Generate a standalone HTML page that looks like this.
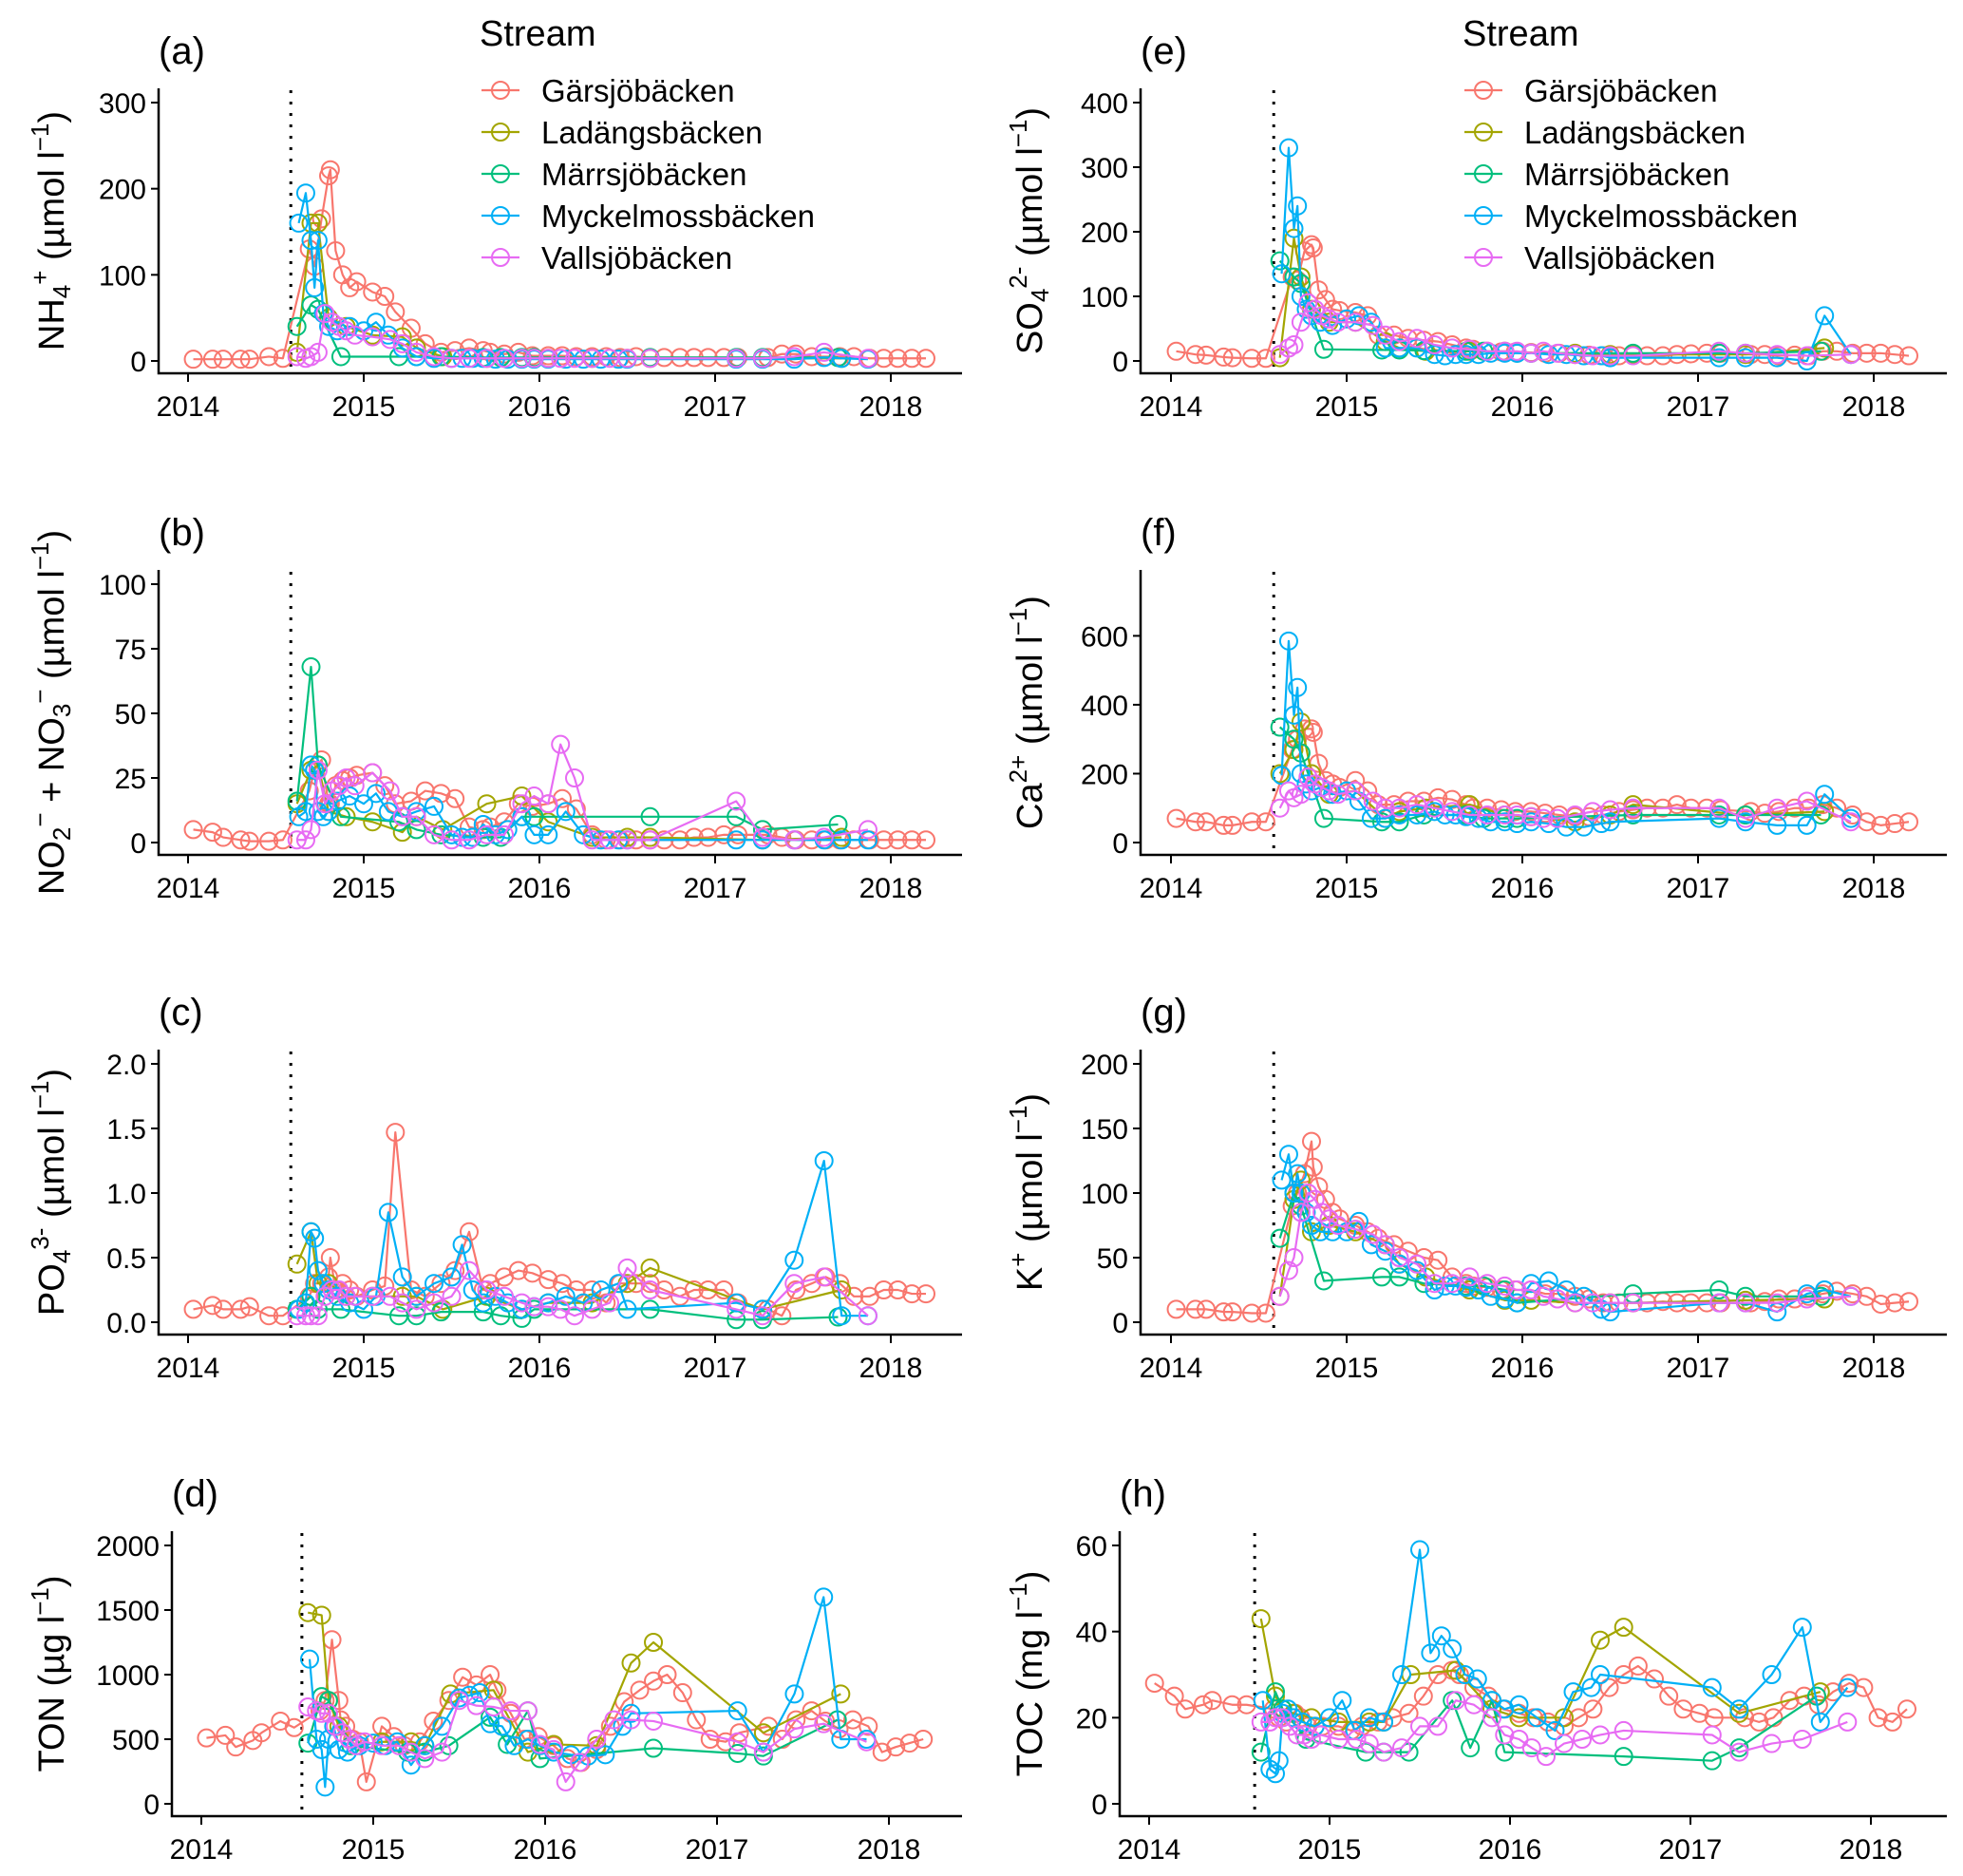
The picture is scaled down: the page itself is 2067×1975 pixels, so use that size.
<!DOCTYPE html>
<html><head><meta charset="utf-8"><style>
html,body{margin:0;padding:0;background:#fff}
svg{display:block;font-family:"Liberation Sans",Arial,sans-serif}
</style></head><body>
<svg id="fig" width="2067" height="1975" viewBox="0 0 2067 1975" xmlns="http://www.w3.org/2000/svg">
<rect width="2067" height="1975" fill="#fff"/>
</svg>
<script>
// ---- data: sampling dates per stream (decimal years) ----
const streams = ["Gärsjöbäcken","Ladängsbäcken","Märrsjöbäcken","Myckelmossbäcken","Vallsjöbäcken"];
const datesG = [2014.03,2014.14,2014.20,2014.30,2014.35,2014.46,2014.54,
 2014.69,2014.72,2014.76,2014.80,2014.81,2014.84,2014.88,2014.92,2014.96,
 2015.05,2015.12,2015.18,2015.27,2015.35,2015.44,2015.52,2015.60,2015.68,2015.72,2015.80,2015.88,2015.96,
 2016.05,2016.13,2016.21,2016.30,2016.38,2016.46,2016.55,2016.63,2016.71,2016.80,2016.88,2016.96,
 2017.05,2017.13,2017.30,2017.38,2017.46,2017.55,2017.63,2017.71,2017.79,2017.88,2017.96,
 2018.04,2018.12,2018.20];
const datesL = [2014.62,2014.70,2014.74,2014.80,2014.90,2015.05,2015.22,2015.30,2015.45,2015.70,2015.90,2016.05,2016.30,2016.50,2016.63,2017.27,2017.72];
const datesM = [2014.62,2014.70,2014.74,2014.87,2015.20,2015.30,2015.44,2015.68,2015.78,2015.90,2015.97,2016.63,2017.12,2017.27,2017.70];
const datesMy = [2014.63,2014.67,2014.70,2014.72,2014.74,2014.77,2014.80,2014.85,2014.92,2015.00,2015.07,2015.14,2015.22,2015.30,2015.40,2015.50,2015.56,2015.62,2015.68,2015.75,2015.82,2015.90,2015.97,2016.05,2016.15,2016.25,2016.35,2016.45,2016.50,2017.12,2017.27,2017.45,2017.62,2017.72,2017.87];
const datesV = [2014.62,2014.67,2014.70,2014.74,2014.78,2014.82,2014.86,2014.90,2014.95,2015.05,2015.15,2015.22,2015.30,2015.40,2015.50,2015.60,2015.70,2015.80,2015.90,2015.97,2016.05,2016.12,2016.20,2016.30,2016.40,2016.50,2016.63,2017.12,2017.27,2017.45,2017.62,2017.87];
const treatmentDate = 2014.585;
const yearTicks = [2014,2015,2016,2017,2018];

// ---- (a) NH4+ ----
const nh4G = [2,2,2,2,2,5,3, 130,110,165,215,222,128,100,85,92, 80,75,57,38,20,10,12,15,12,10,8,10,6, 6,6,5,5,5,4,5,4,4,4,4,4, 4,4,4,8,8,5,5,5,5,3,3, 3,3,3];
const nh4L = [10,160,160,50,40,30,28,15,5,3,3,3,3,3,3,3,3];
const nh4M = [40,65,60,5,5,5,5,4,4,4,4,4,4,4,4];
const nh4My = [160,195,140,85,140,55,40,35,40,35,45,30,15,5,3,3,3,3,3,2,2,2,2,2,2,2,2,2,2,2,2,2,4,3,2];
const nh4V = [5,3,5,10,55,45,40,35,30,28,25,20,10,5,3,3,3,3,3,3,3,3,3,3,3,3,3,3,3,5,10,3];
const nh4Ticks = [0,100,200,300];
// ---- (b) NO2- + NO3- ----
const no3G = [5,4,2,1,0.5,0.5,1, 20,28,32,15,15,22,24,25,26, 27,22,15,16,20,19,17,6,5,6,8,15,14, 15,17,13,3,1,1,1,1,1,1,2,2, 3,3,3,2,1,1,1,1,1,1,1, 1,1,1];
const no3L = [15,28,30,12,10,8,4,10,5,15,18,8,2,2,2,1,2];
const no3M = [16,68,30,10,8,5,3,2,2,10,10,10,10,5,7];
const no3My = [10,12,30,28,12,10,12,16,18,15,19,12,10,12,14,3,2,2,7,3,5,10,3,3,12,3,1,1,1,1,1,1,1,1,1];
const no3V = [1,1,5,28,15,20,22,25,22,27,20,10,10,3,1,1,3,3,15,18,15,38,25,1,1,1,1,16,2,1,2,5];
const no3Ticks = [0,25,50,75,100];
// ---- (c) PO4 3- ----
const po4G = [0.1,0.13,0.1,0.1,0.12,0.05,0.05, 0.2,0.3,0.3,0.35,0.5,0.25,0.3,0.25,0.2, 0.25,0.28,1.47,0.25,0.2,0.3,0.4,0.7,0.25,0.3,0.35,0.4,0.38, 0.33,0.3,0.25,0.25,0.15,0.3,0.3,0.3,0.25,0.2,0.25,0.25, 0.25,0.15,0.1,0.05,0.25,0.3,0.35,0.3,0.2,0.2,0.25, 0.25,0.22,0.22];
const po4L = [0.45,0.7,0.3,0.3,0.2,0.2,0.2,0.2,0.1,0.2,0.1,0.15,0.15,0.3,0.42,0.1,0.25];
const po4M = [0.1,0.2,0.1,0.1,0.05,0.05,0.08,0.08,0.05,0.03,0.1,0.1,0.02,0.02,0.04];
const po4My = [0.1,0.15,0.7,0.65,0.4,0.3,0.25,0.2,0.15,0.1,0.2,0.85,0.35,0.2,0.3,0.35,0.6,0.25,0.15,0.2,0.15,0.1,0.12,0.15,0.2,0.15,0.25,0.3,0.1,0.15,0.1,0.48,1.25,0.05,0.05];
const po4V = [0.05,0.05,0.05,0.05,0.2,0.25,0.25,0.2,0.2,0.2,0.2,0.15,0.1,0.15,0.2,0.4,0.25,0.2,0.15,0.12,0.12,0.1,0.05,0.1,0.15,0.42,0.25,0.1,0.05,0.3,0.35,0.05];
const po4Ticks = [0,0.5,1,1.5,2];
const po4TickLabels = ["0.0","0.5","1.0","1.5","2.0"];
// ---- (d) TON ----
const tonG = [510,530,440,490,550,640,590, 720,800,1270,800,650,600,500,480,170, 600,520,450,480,640,800,980,920,1000,880,700,500,520, 450,350,320,420,600,790,880,950,1000,860,650,500, 480,550,600,500,650,720,640,580,650,600,400, 440,470,500];
const tonL = [1480,1460,800,600,450,480,480,450,850,880,400,460,450,1090,1250,550,850];
const tonM = [470,830,800,450,400,400,450,670,460,720,350,430,390,370,650];
const tonMy = [1120,500,420,130,500,600,420,400,450,470,450,480,300,450,600,820,840,860,620,600,450,500,450,400,380,370,380,600,700,720,400,850,1600,500,500];
const tonV = [750,720,700,700,600,550,500,450,480,450,450,400,350,400,800,760,750,720,720,460,420,170,320,500,650,650,640,480,400,580,620,480];
const tonTicks = [0,500,1000,1500,2000];
// ---- (e) SO4 2- ----
const so4G = [15,10,9,6,5,4,4, 130,125,170,180,175,110,95,80,78, 75,70,40,40,35,32,30,25,20,18,15,14,14, 13,12,12,10,9,8,8,9,8,8,10,11, 12,12,10,10,8,9,8,15,15,12,12, 12,10,8];
const so4L = [5,190,130,80,60,60,30,20,15,15,15,12,12,10,10,10,20];
const so4M = [155,130,120,18,17,17,16,15,15,13,12,12,12,12,15];
const so4My = [135,330,205,240,100,80,70,60,55,65,70,60,20,20,20,10,8,10,10,10,12,12,12,12,10,10,8,8,5,5,5,5,0,70,10];
const so4V = [10,20,25,60,90,80,70,65,60,60,55,40,30,35,25,20,18,15,15,15,12,15,12,10,8,8,8,15,12,10,8,10];
const so4Ticks = [0,100,200,300,400];
// ---- (f) Ca2+ ----
const caG = [70,60,60,50,50,60,60, 270,300,330,330,320,230,180,170,160, 180,150,110,110,120,120,130,125,110,100,100,95,90, 90,85,80,75,75,80,90,95,100,100,110,100, 100,95,90,85,90,100,100,110,100,80,60, 50,55,60];
const caL = [200,270,350,200,140,150,70,90,100,110,80,75,60,80,110,80,90];
const caM = [335,300,260,70,60,60,80,80,70,70,70,80,80,80,80];
const caMy = [195,585,370,450,200,170,150,160,140,150,120,70,70,80,80,90,80,80,75,70,60,60,55,60,55,45,45,55,60,70,60,50,50,140,70];
const caV = [100,150,130,140,190,170,160,150,140,150,120,100,100,110,100,90,80,80,80,80,75,70,70,80,90,95,100,100,70,100,120,60];
const caTicks = [0,200,400,600];
// ---- (g) K+ ----
const kG = [10,10,10,8,8,7,7, 90,100,115,140,120,105,95,85,80, 75,70,65,60,55,50,48,35,30,28,27,25,25, 25,22,22,20,18,15,15,15,15,16,15,15, 15,15,15,16,18,18,20,22,24,22,20, 14,15,16];
const kL = [20,95,110,70,75,70,60,45,35,25,17,17,15,15,15,17,18];
const kM = [65,100,90,32,35,35,30,28,28,25,15,22,25,20,20];
const kMy = [110,130,100,115,100,85,75,70,70,70,78,60,55,45,40,25,28,28,27,25,20,18,15,30,32,25,20,10,8,15,15,8,22,25,20];
const kV = [20,40,50,85,100,95,85,80,75,72,68,60,50,45,30,30,35,30,28,25,25,20,18,15,15,15,15,15,15,15,18,20];
const kTicks = [0,50,100,150,200];
// ---- (h) TOC ----
const tocG = [28,25,22,23,24,23,23, 22,20,19,21,21,20,18,18,18, 18,17,18,19,20,21,25,30,31,30,27,25,22, 21,20,19,18,20,22,27,30,32,29,25,22, 21,20,20,19,20,24,25,23,26,28,27, 20,19,22];
const tocL = [43,25,22,21,20,19,19,19,30,31,22,20,20,38,41,21,26];
const tocM = [12,26,22,15,12,12,12,24,13,24,12,11,10,13,25];
const tocMy = [24,8,7,10,21,22,20,19,18,20,24,17,20,19,30,59,35,39,36,30,29,24,22,23,20,17,26,27,30,27,22,30,41,19,27];
const tocV = [19,19,20,20,18,16,16,15,16,15,15,14,12,13,18,18,24,23,20,16,15,13,11,14,15,16,17,16,12,14,15,19];
const tocTicks = [0,20,40,60];

// ---- rendering ----
const NS = "http://www.w3.org/2000/svg";
const svg = document.getElementById("fig");
const colors = ["#F8766D","#A3A500","#00BF7D","#00B0F6","#E76BF3"];
const allDates = [datesG,datesL,datesM,datesMy,datesV];
function mk(tag, attrs, parent){ const e=document.createElementNS(NS,tag); for(const k in attrs) e.setAttribute(k,attrs[k]); (parent||svg).appendChild(e); return e; }

const panels = [
 {id:"a",series:[nh4G,nh4L,nh4M,nh4My,nh4V],ticks:nh4Ticks,labels:null,top:300,row:0,col:0,title:[["NH",""],["4","sub"],["+","sup"],[" (µmol l",""],["−1","sup"],[")",""]]},
 {id:"b",series:[no3G,no3L,no3M,no3My,no3V],ticks:no3Ticks,labels:null,top:100,row:1,col:0,title:[["NO",""],["2","sub"],["−","sup"],[" + NO",""],["3","sub"],["−","sup"],["  (µmol l",""],["−1","sup"],[")",""]]},
 {id:"c",series:[po4G,po4L,po4M,po4My,po4V],ticks:po4Ticks,labels:po4TickLabels,top:2,row:2,col:0,title:[["PO",""],["4","sub"],["3-","sup"],[" (µmol l",""],["−1","sup"],[")",""]]},
 {id:"d",series:[tonG,tonL,tonM,tonMy,tonV],ticks:tonTicks,labels:null,top:2000,row:3,col:0,wide:true,title:[["TON (µg l",""],["−1","sup"],[")",""]]},
 {id:"e",series:[so4G,so4L,so4M,so4My,so4V],ticks:so4Ticks,labels:null,top:400,row:0,col:1,title:[["SO",""],["4","sub"],["2-","sup"],[" (µmol l",""],["−1","sup"],[")",""]]},
 {id:"f",series:[caG,caL,caM,caMy,caV],ticks:caTicks,labels:null,top:750,row:1,col:1,title:[["Ca",""],["2+","sup"],[" (µmol l",""],["−1","sup"],[")",""]]},
 {id:"g",series:[kG,kL,kM,kMy,kV],ticks:kTicks,labels:null,top:200,row:2,col:1,title:[["K",""],["+","sup"],[" (µmol l",""],["−1","sup"],[")",""]]},
 {id:"h",series:[tocG,tocL,tocM,tocMy,tocV],ticks:tocTicks,labels:null,top:60,row:3,col:1,narrow:true,title:[["TOC (mg l",""],["−1","sup"],[")",""]]}
];
const rowZero = [380,887,1392,1899];

panels.forEach(p=>{
  let axL, x14, yr, right, titleX;
  if(p.col===0){ axL=167; x14=198; yr=185; right=1013; titleX=54;
    if(p.wide){ axL=181; x14=212; yr=181; } }
  else { axL=1201; x14=1233; yr=185; right=2050; titleX=1084;
    if(p.narrow){ axL=1179; x14=1210; yr=190; } }
  const y0 = rowZero[p.row];
  const xs = t => x14 + (t-2014)*yr;
  const ys = v => y0 - v*272/p.top;
  const g = mk("g",{});
  
  
  const ax = mk("path",{d:`M${axL},${y0-287} V${y0+13} H${right}`,fill:"none",stroke:"#000","stroke-width":2.5},g);
  
  
  p.ticks.forEach((t,i)=>{
    const y=ys(t);
    mk("line",{x1:axL-8,x2:axL,y1:y,y2:y,stroke:"#000","stroke-width":2},g);
    const lab=mk("text",{x:axL-13,y:y+11,"text-anchor":"end","font-size":30,fill:"#000"},g);
    lab.textContent = p.labels? p.labels[i] : String(t);
    
    
  });
  yearTicks.forEach(t=>{
    const x=xs(t);
    mk("line",{x1:x,x2:x,y1:y0+13,y2:y0+22,stroke:"#000","stroke-width":2},g);
    const lab=mk("text",{x:x,y:y0+58,"text-anchor":"middle","font-size":30,fill:"#000"},g);
    lab.textContent=String(t);
    
    
  });
  const tx=xs(treatmentDate);
  const dl=mk("line",{x1:tx,x2:tx,y1:y0-285,y2:y0+12,stroke:"#000","stroke-width":3,"stroke-dasharray":"3,9"},g);
  
  
  p.series.forEach((vals,si)=>{
    const dates = allDates[si];
    const pts=[];
    vals.forEach((v,i)=>{ if(v!==null && dates[i]!==undefined) pts.push([xs(dates[i]),ys(v)]); });
    const line=mk("polyline",{points:pts.map(q=>q.join(",")).join(" "),fill:"none",stroke:colors[si],"stroke-width":2.2,"stroke-linejoin":"round"},g);
    
    
    pts.forEach(q=>{
      const c=mk("circle",{cx:q[0],cy:q[1],r:9,fill:"none",stroke:colors[si],"stroke-width":2},g);
      
      
    });
  });
  const tag=mk("text",{x:axL,y:y0-313,"font-size":40,fill:"#000"},g);
  tag.textContent="("+p.id+")";
  
  
  const cy=y0-137;
  const tt=mk("text",{x:titleX,y:cy,"text-anchor":"middle","font-size":38,fill:"#000",transform:`rotate(-90 ${titleX} ${cy})`,dy:13},g);
  
  
  p.title.forEach(([s,k])=>{
    const ts=mk("tspan",{},tt);
    if(k==="sub"){ ts.setAttribute("font-size","26"); ts.setAttribute("baseline-shift","-25%"); }
    if(k==="sup"){ ts.setAttribute("font-size","26"); ts.setAttribute("baseline-shift","60%"); }
    ts.textContent=s;
  });
});

[[505,527,570],[1540,1562,1605]].forEach((L,li)=>{
  const g=mk("g",{});
  
  
  const t=mk("text",{x:L[0],y:48,"font-size":38,fill:"#000"},g);
  t.textContent="Stream";
  
  
  streams.forEach((s,i)=>{
    const y=95+i*44;
    const e=mk("g",{},g);
    
    
    mk("line",{x1:L[1]-20,x2:L[1]+20,y1:y,y2:y,stroke:colors[i],"stroke-width":2.2},e);
    mk("circle",{cx:L[1],cy:y,r:9,fill:"none",stroke:colors[i],"stroke-width":2},e);
    const tx=mk("text",{x:L[2],y:y+12,"font-size":33,fill:"#000"},e);
    tx.textContent=s;
  });
});
</script>
</body></html>
